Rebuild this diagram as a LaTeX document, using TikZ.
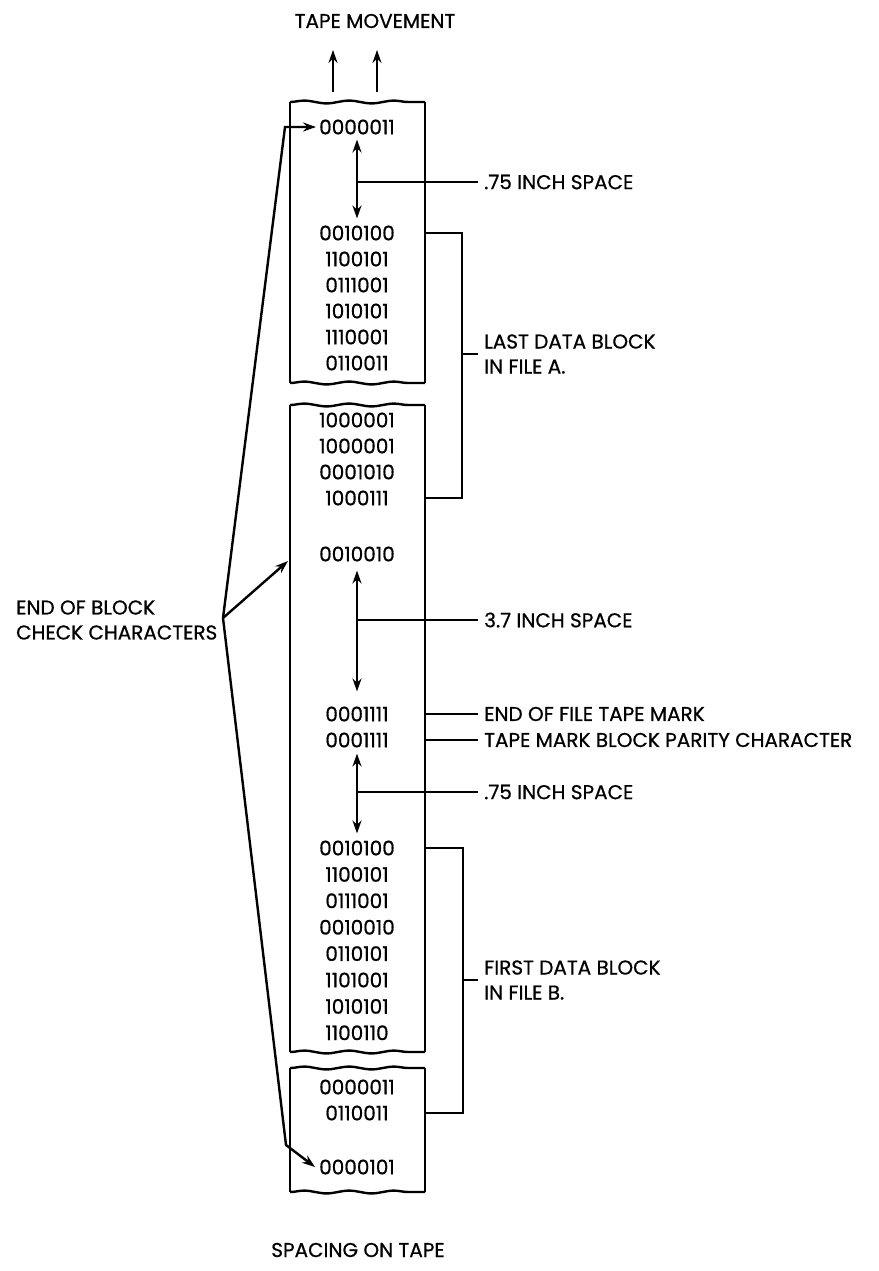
\documentclass[tikz,border=0pt]{standalone}
\usepackage{fontspec}
\setmainfont{Poppins}[FakeBold=0.7]
\usetikzlibrary{positioning}
\usetikzlibrary{arrows.meta}
\usetikzlibrary{decorations.pathmorphing}

\tikzset{
  bits/.style={font=\fontsize{20}{24}\selectfont, inner sep=0pt},
  note/.style={font=\fontsize{20}{25}\selectfont, inner sep=0pt, align=left},
  rag/.style={decorate, decoration={snake, amplitude=1.4pt, segment length=45pt}},
}

\begin{document}
\begin{tikzpicture}[x=1pt,y=-1pt,line width=2.4pt,>={Stealth[length=13pt,width=9pt]}]
        \useasboundingbox (0,0) rectangle (878,1271);
        % tape pieces
        \foreach \t/\b in {102/383,405/1052,1068/1192} {
            \draw (290,\b) -- (290,\t);
            \draw[rag] (290,\t) -- (425,\t);
            \draw (425,\t) -- (425,\b);
            \draw[rag] (290,\b) -- (425,\b);
        }
        \coordinate (edge) at (425,0);
        \coordinate (rim) at (478,0);
        % characters on tape
        \node[bits] (top0) at (357,127) {0000011};
        \foreach \c [count=\i] in {0010100,1100101,0111001,1010101,1110001,0110011}
            \node[bits] (a\i) at (357,{233+26*(\i-1)}) {\c};
        \foreach \c [count=\i from 7] in {1000001,1000001,0001010,1000111}
            \node[bits] (a\i) at (357,{420+26*(\i-7)}) {\c};
        \node[bits] (sp) at (357,554) {0010010};
        \node[bits] (tm1) at (357,714) {0001111};
        \node[bits] (tm2) at (357,740) {0001111};
        \foreach \c [count=\i] in {0010100,1100101,0111001,0010010,0110101,1101001,1010101,1100110}
            \node[bits] (b\i) at (357,{848+26.4*(\i-1)}) {\c};
        \node[bits] (b9) at (357,1087) {0000011};
        \node[bits] (b10) at (357,1113) {0110011};
        \node[bits] (end0) at (357,1167) {0000101};
        % gaps
        \draw[<->, shorten <=4pt, shorten >=6pt] (top0.south) -- (a1.north);
        \draw[<->, shorten <=8pt, shorten >=14pt] (sp.south) -- (tm1.north);
        \draw[<->, shorten <=5pt, shorten >=6pt] (tm2.south) -- (b1.north);
        \coordinate (s1) at (357,182);
        \coordinate (e1) at (478,182);
        \coordinate (s2) at (357,620);
        \coordinate (e2) at (478,620);
        \coordinate (s3) at (357,792);
        \coordinate (e3) at (478,792);
        \draw (s1) -- (e1);
        \draw (s2) -- (e2);
        \draw (s3) -- (e3);
        \node[note, right=5pt of e1] (lab1) {.75 INCH SPACE};
        \node[note, right=5pt of e2] (lab2) {3.7 INCH SPACE};
        \node[note, right=5pt of e3] (lab3) {.75 INCH SPACE};
        % tape mark
        \coordinate (e4) at (tm1 -| rim);
        \coordinate (e5) at (tm2 -| rim);
        \draw (tm1 -| edge) -- (e4);
        \draw (tm2 -| edge) -- (e5);
        \node[note, right=5pt of e4] (lab4) {END OF FILE TAPE MARK};
        \node[note, right=5pt of e5] (lab5) {TAPE MARK BLOCK PARITY CHARACTER};
        % blocks
        \draw (a1 -| edge) -- ++(37,0) |- (a10 -| edge);
        \coordinate (tA) at (478,354);
        \draw (tA) -- ++(-16,0);
        \node[note, right=5pt of tA] (labA) {LAST DATA BLOCK\\IN FILE A.};
        \draw (b1 -| edge) -- ++(38,0) |- (b10 -| edge);
        \coordinate (tB) at (478,980);
        \draw (tB) -- ++(-15,0);
        \node[note, right=5pt of tB] (labB) {FIRST DATA BLOCK\\IN FILE B.};
        % check characters
        \node[note, anchor=west] (eob) at (15,620) {END OF BLOCK\\CHECK CHARACTERS};
        \coordinate (jn) at (223,618);
        \coordinate (k1) at (285,127);
        \coordinate (k2) at (288,561);
        \coordinate (k3) at (286,1145);
        \draw[->] (jn) -- (k1) -- ([xshift=-2pt]top0.west);
        \draw[->] (jn) -- (k2);
        \draw[->] (jn) -- (k3) -- ([xshift=-3pt]end0.west);
        % movement
        \node[note] (ttl) at (375,21) {TAPE MOVEMENT};
        \coordinate (m1) at (333,92);
        \coordinate (m2) at (377,92);
        \draw[->] (m1) -- ++(0,-42);
        \draw[->] (m2) -- ++(0,-42);
        \node[note] (cap) at (358,1250) {SPACING ON TAPE};
    \end{tikzpicture}
\end{document}
